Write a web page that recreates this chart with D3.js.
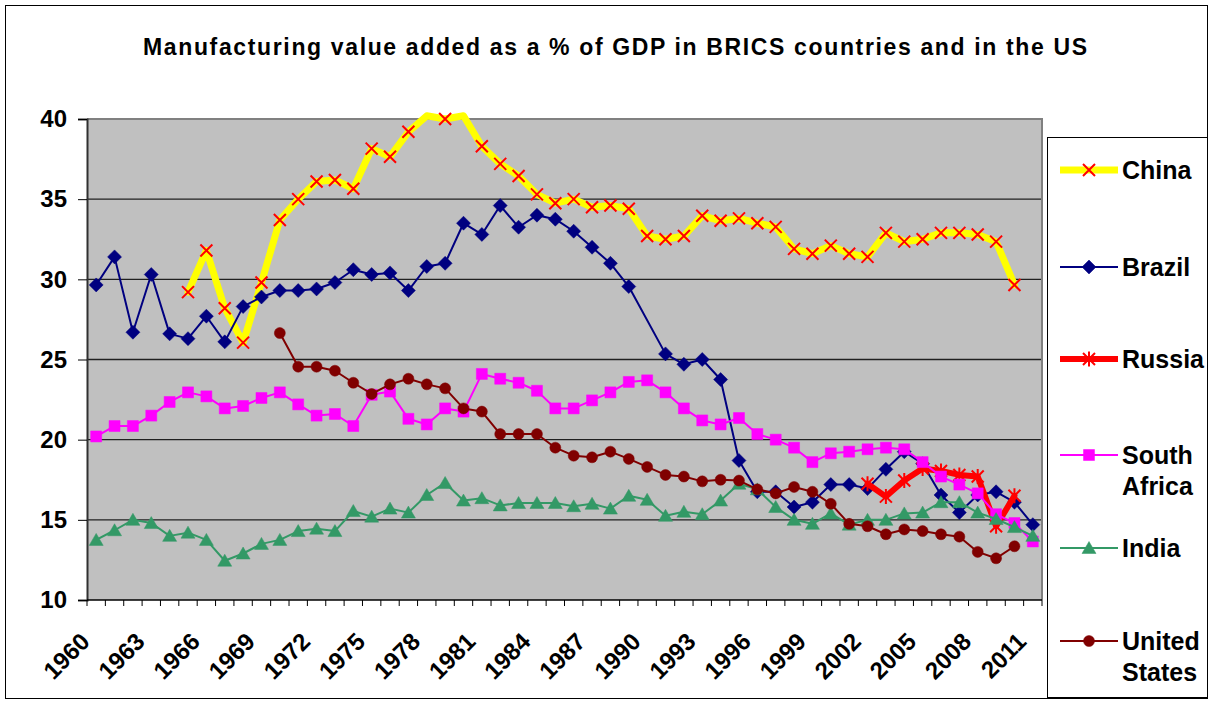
<!DOCTYPE html>
<html>
<head>
<meta charset="utf-8">
<script src="https://cdn.jsdelivr.net/npm/d3@7"></script>
<style>
  html, body { margin: 0; padding: 0; background: #fff; }
  svg { display: block; }
  text { font-family: "Liberation Sans", Arial, sans-serif; font-weight: bold; fill: #000; }
</style>
</head>
<body>
<svg id="chart" width="1209" height="706"></svg>
<script>
// ---------- DATA ----------
const years = [1960,1961,1962,1963,1964,1965,1966,1967,1968,1969,
               1970,1971,1972,1973,1974,1975,1976,1977,1978,1979,
               1980,1981,1982,1983,1984,1985,1986,1987,1988,1989,
               1990,1991,1992,1993,1994,1995,1996,1997,1998,1999,
               2000,2001,2002,2003,2004,2005,2006,2007,2008,2009,
               2010,2011];
const tickYears = [1960,1963,1966,1969,1972,1975,1978,1981,1984,1987,1990,1993,1996,1999,2002,2005,2008,2011];
const yTicks = [10,15,20,25,30,35,40];

const china = [null,null,null,null,null,29.2,31.8,28.2,26.05,29.8,
               33.7,35.0,36.1,36.2,35.65,38.15,37.65,39.2,40.2,40.0,
               40.2,38.3,37.2,36.45,35.3,34.75,35.0,34.5,34.6,34.4,
               32.7,32.5,32.7,33.97,33.65,33.8,33.5,33.27,31.9,31.6,
               32.1,31.6,31.4,32.9,32.35,32.5,32.9,32.9,32.8,32.35,
               29.65,null];
const brazil = [29.65,31.4,26.7,30.3,26.6,26.3,27.7,26.1,28.3,28.9,
                29.3,29.3,29.4,29.8,30.6,30.3,30.4,29.3,30.8,31.0,
                33.5,32.8,34.6,33.25,34.0,33.75,33.0,32.0,31.0,29.55,
                null,25.35,24.7,25.0,23.75,18.7,16.75,16.75,15.8,16.1,
                17.2,17.2,16.95,18.15,19.25,18.5,16.55,15.45,16.55,16.75,
                16.1,14.7];
const russia = [null,null,null,null,null,null,null,null,null,null,
                null,null,null,null,null,null,null,null,null,null,
                null,null,null,null,null,null,null,null,null,null,
                null,null,null,null,null,null,null,null,null,null,
                null,null,17.25,16.45,17.45,18.2,18.05,17.8,17.7,14.6,
                16.5,null];
const southAfrica = [20.2,20.85,20.85,21.5,22.35,22.95,22.7,21.95,22.1,22.6,
                     22.95,22.2,21.5,21.6,20.85,22.8,23.0,21.3,20.95,21.95,
                     21.75,24.1,23.8,23.55,23.05,21.95,21.95,22.45,22.95,23.6,
                     23.7,22.95,21.95,21.2,20.95,21.35,20.35,20.0,19.5,18.6,
                     19.15,19.25,19.4,19.5,19.4,18.6,17.7,17.2,16.65,15.35,
                     14.8,13.65];
const india = [13.75,14.35,15.0,14.8,14.0,14.2,13.75,12.45,12.9,13.5,
               13.75,14.3,14.45,14.3,15.55,15.2,15.7,15.45,16.55,17.3,
               16.2,16.35,15.9,16.05,16.05,16.05,15.85,16.0,15.7,16.5,
               16.25,15.25,15.5,15.35,16.2,17.25,16.9,15.8,15.0,14.75,
               15.4,14.7,15.0,15.0,15.4,15.45,16.1,16.1,15.45,15.05,
               14.55,14.0];
const unitedStates = [null,null,null,null,null,null,null,null,null,null,
                      26.65,24.55,24.55,24.3,23.55,22.85,23.45,23.8,23.45,23.2,
                      21.95,21.75,20.35,20.35,20.35,19.5,19.0,18.9,19.25,18.8,
                      18.3,17.8,17.7,17.4,17.5,17.45,16.9,16.65,17.05,16.75,
                      16.0,14.75,14.6,14.1,14.4,14.3,14.1,13.95,13.0,12.6,
                      13.35,null];

const seriesNames = ["China","Brazil","Russia","South Africa","India","United States"];
const seriesValues = [china, brazil, russia, southAfrica, india, unitedStates];

// ---------- STYLES ----------
const styles = {
  "China":         {line:"#FFFF00", width:7, marker:"x",        mcolor:"#FF0000"},
  "Brazil":        {line:"#000080", width:2, marker:"diamond",  mcolor:"#000080"},
  "Russia":        {line:"#FF0000", width:6, marker:"asterisk", mcolor:"#FF0000"},
  "South Africa":  {line:"#FF00FF", width:2, marker:"square",   mcolor:"#FF00FF"},
  "India":         {line:"#339966", width:2, marker:"triangle", mcolor:"#339966"},
  "United States": {line:"#800000", width:2, marker:"circle",   mcolor:"#800000"}
};

const markerPaths = {
  x:        "M-6,-6L6,6M-6,6L6,-6",
  asterisk: "M-6,-6L6,6M-6,6L6,-6M0,-7.5L0,7.5",
  diamond:  "M0,-7L7,0L0,7L-7,0Z",
  square:   "M-5.5,-5.5H5.5V5.5H-5.5Z",
  triangle: "M0,-6.5L7,5.5L-7,5.5Z",
  circle:   "M-5.5,0A5.5,5.5 0 1,0 5.5,0A5.5,5.5 0 1,0 -5.5,0Z"
};
const strokeMarkers = {x:true, asterisk:true};

// ---------- LAYOUT ----------
const svg = d3.select("#chart");
const plot = {left:87, top:119, right:1042, bottom:600};

svg.append("rect").attr("x",5.5).attr("y",5.5).attr("width",1202).attr("height",693)
   .attr("fill","#fff").attr("stroke","#000").attr("stroke-width",1);

const x = d3.scaleBand().domain(years).range([plot.left, plot.right]).padding(0);
const y = d3.scaleLinear().domain([10,40]).range([plot.bottom, plot.top]);
const cx = yr => x(yr) + x.bandwidth()/2;

// plot background
svg.append("rect").attr("x",plot.left).attr("y",plot.top)
   .attr("width",plot.right-plot.left).attr("height",plot.bottom-plot.top)
   .attr("fill","#C0C0C0");

// gridlines
svg.append("g").selectAll("line").data(yTicks.filter(t => t>10 && t<40)).join("line")
   .attr("x1",plot.left).attr("x2",plot.right)
   .attr("y1",d=>y(d)).attr("y2",d=>y(d))
   .attr("stroke","#202020").attr("stroke-width",1.3);

// plot border (top, right)
svg.append("path")
   .attr("d",`M${plot.left},${plot.top}H${plot.right}V${plot.bottom}`)
   .attr("fill","none").attr("stroke","#808080").attr("stroke-width",2);

// Y axis
const yAxis = d3.axisLeft(y).tickValues(yTicks).tickSize(9).tickPadding(11).tickFormat(d3.format("d"));
const gy = svg.append("g").attr("transform",`translate(${plot.left},0)`).call(yAxis);
gy.select(".domain").attr("stroke","#303030").attr("stroke-width",2);
gy.selectAll(".tick line").attr("stroke","#000");
gy.selectAll(".tick text").attr("font-size",24).attr("font-family","Liberation Sans, Arial, sans-serif")
  .attr("font-weight","bold").attr("fill","#000");

// X axis: ticks on category boundaries
const gx = svg.append("g").attr("transform",`translate(0,${plot.bottom})`);
gx.append("line").attr("x1",plot.left).attr("x2",plot.right).attr("y1",0).attr("y2",0)
  .attr("stroke","#000").attr("stroke-width",1.5);
const boundaries = years.map(yr => x(yr)).concat([plot.right]);
gx.selectAll("line.tk").data(boundaries).join("line").attr("class","tk")
  .attr("x1",d=>d).attr("x2",d=>d).attr("y1",0).attr("y2",6)
  .attr("stroke","#000").attr("stroke-width",1);
gx.selectAll("text").data(tickYears).join("text")
  .attr("transform",d=>`translate(${cx(d)-5},43) rotate(-45)`)
  .attr("text-anchor","end").attr("font-size",24)
  .text(d=>d);

// Series
const line = d3.line().x(d=>cx(d.year)).y(d=>y(d.value));
seriesNames.forEach((name,i) => {
  const st = styles[name];
  const pts = years.map((yr,j)=>({year:yr, value:seriesValues[i][j]})).filter(d=>d.value!==null);
  const g = svg.append("g");
  g.append("path").datum(pts).attr("d",line)
   .attr("fill","none").attr("stroke",st.line).attr("stroke-width",st.width)
   .attr("stroke-linejoin","round").attr("stroke-linecap","round");
  g.selectAll("path.m").data(pts.filter(d=>d.value<=40)).join("path").attr("class","m")
   .attr("transform",d=>`translate(${cx(d.year)},${y(d.value)})`)
   .attr("d",markerPaths[st.marker])
   .attr("fill",strokeMarkers[st.marker] ? "none" : st.mcolor)
   .attr("stroke",st.mcolor)
   .attr("stroke-width",strokeMarkers[st.marker] ? 2 : 0.5);
});

// Title
svg.append("text").attr("x",143).attr("y",55).attr("font-size",23)
   .attr("textLength",944).attr("lengthAdjust","spacing")
   .text("Manufacturing value added as a % of GDP in BRICS countries and in the US");

// Legend
const legend = svg.append("g");
legend.append("rect").attr("x",1047.5).attr("y",137.5).attr("width",160).attr("height",560)
  .attr("fill","#fff").attr("stroke","#000").attr("stroke-width",1);
const legendY = [170, 267, 359, 455, 548, 641];
const legendLines = [["China"],["Brazil"],["Russia"],["South","Africa"],["India"],["United","States"]];
seriesNames.forEach((name,i) => {
  const st = styles[name];
  const ly = legendY[i];
  legend.append("line").attr("x1",1060).attr("x2",1118).attr("y1",ly).attr("y2",ly)
    .attr("stroke",st.line).attr("stroke-width",st.width);
  legend.append("path").attr("transform",`translate(1089,${ly})`)
    .attr("d",markerPaths[st.marker])
    .attr("fill",strokeMarkers[st.marker] ? "none" : st.mcolor)
    .attr("stroke",st.mcolor).attr("stroke-width",strokeMarkers[st.marker] ? 2 : 0.5);
  const t = legend.append("text").attr("x",1122).attr("y",ly+9).attr("font-size",25);
  legendLines[i].forEach((s,k) => {
    t.append("tspan").attr("x",1122).attr("dy",k===0?0:31).text(s);
  });
});
</script>
</body>
</html>
